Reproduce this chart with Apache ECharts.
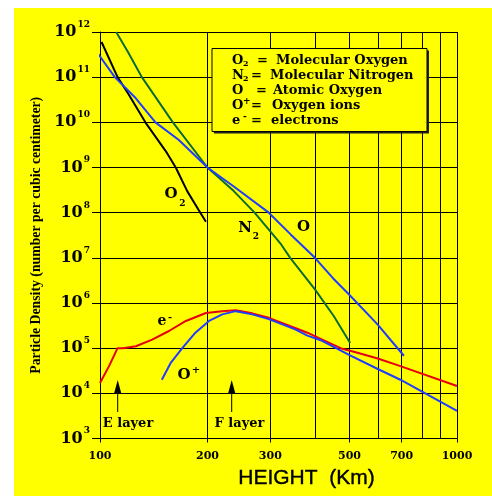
<!DOCTYPE html>
<html><head><meta charset="utf-8">
<script src="https://cdn.jsdelivr.net/npm/echarts@6/dist/echarts.min.js"></script>
<style>
html,body{margin:0;padding:0;background:#fff;}
#bg{position:absolute;left:14px;top:8px;width:478px;height:488px;background:#ffff00;}
#c{position:absolute;left:0;top:0;width:492px;height:496px;}
</style></head><body>
<div id="bg"></div><div id="c"></div>
<script>
// ---- data (height in km, density per cm^3) ----
const heightTicks = [100, 200, 300, 500, 700, 1000];
const o2Height = [101, 112, 120, 134, 154, 163, 175.5, 191, 198];
const o2Density = [6e11, 1e11, 4.3e10, 1e10, 2.1e9, 1e9, 3e8, 1e8, 6.3e7];
const n2Height = [111, 120, 131, 160, 200, 237, 271, 320, 341, 400, 452, 502];
const n2Density = [1e12, 3.5e11, 1e11, 1e10, 1e9, 3e8, 1e8, 2.1e7, 1e7, 2e6, 5.1e5, 1.3e5];
const oHeight = [99, 110, 126, 143, 166, 200, 237, 297, 342, 400, 450, 500, 598, 710];
const oDensity = [3.2e11, 1e11, 3.4e10, 1e10, 4.1e9, 1e9, 3.8e8, 1e8, 3.3e7, 1e7, 3.5e6, 1.5e6, 3.4e5, 6.8e4];
const eHeight = [100, 106, 112, 116, 126, 140, 156, 174, 198, 220, 240, 267, 297, 352, 381, 415, 472, 514, 600, 694, 1000];
const eDensity = [1.7e4, 4e4, 1e5, 1e5, 1.1e5, 1.55e5, 2.4e5, 4e5, 6e5, 6.6e5, 6.9e5, 5.9e5, 4.7e5, 2.8e5, 2.2e5, 1.6e5, 1e5, 8.3e4, 5.9e4, 4e4, 1.45e4];
const opHeight = [149, 158, 170, 185, 202, 220, 240, 267, 297, 352, 381, 415, 500, 598, 694, 1000];
const opDensity = [2e4, 4.8e4, 1e5, 2.2e5, 4e5, 5.6e5, 6.6e5, 5.6e5, 4.4e5, 2.6e5, 1.9e5, 1.5e5, 7e4, 3.5e4, 2e4, 4.1e3];
const legendRows = [
  ['O', '2', '', 'Molecular Oxygen'],
  ['N', '2', '', 'Molecular Nitrogen'],
  ['O', '', '', 'Atomic Oxygen'],
  ['O', '', '+', 'Oxygen ions'],
  ['e', '', '-', 'electrons']
];

const serif = 'DejaVu Serif';
function pairs(xs, ys) { return xs.map((x, i) => [x, ys[i]]); }
function lineSeries(name, xs, ys, color) {
  return { name: name, type: 'line', data: pairs(xs, ys), symbol: 'none', smooth: false,
    lineStyle: { color: color, width: 2 }, z: 3 };
}
function txt(s, x, y, size, align, extra) {
  return Object.assign({ type: 'text', x: x, y: y, z: 10,
    style: { text: s, font: 'bold ' + size + 'px "' + serif + '"', fill: '#000',
      textAlign: align || 'center', textVerticalAlign: 'middle' } }, extra || {});
}

const chart = echarts.init(document.getElementById('c'));
const graphics = [];
// legend box with shadow
graphics.push({ type: 'rect', shape: { x: 214, y: 50.5, width: 215, height: 83 }, style: { fill: '#222' }, z: 8 });
graphics.push({ type: 'rect', shape: { x: 212, y: 48.5, width: 215, height: 83 }, style: { fill: '#ffff00', stroke: '#000', lineWidth: 1 }, z: 9 });
const eqX = [257, 251, 256, 251, 251];
const descX = [276, 270, 273, 272, 271];
legendRows.forEach((r, i) => {
  const cy = 60.5 + i * 15;
  graphics.push(txt(r[0], 232, cy, 13, 'left'));
  if (r[1]) graphics.push(txt(r[1], 243, cy + 3.5, 8, 'left'));
  if (r[2]) graphics.push(txt(r[2], 243, cy - 4, 9, 'left'));
  graphics.push(txt('=', eqX[i], cy, 13, 'left'));
  graphics.push(txt(r[3], descX[i], cy, 13, 'left'));
});
// curve labels
graphics.push(txt('O', 171, 194, 15));
graphics.push(txt('2', 182.5, 203.5, 9));
graphics.push(txt('N', 245, 228, 15));
graphics.push(txt('2', 256, 236.5, 9));
graphics.push(txt('O', 303.5, 227.5, 15));
graphics.push(txt('e', 162, 321, 14));
graphics.push(txt('-', 170, 317, 10));
graphics.push(txt('O', 184, 375.5, 15));
graphics.push(txt('+', 196, 370, 10));
// layer arrows
[[117.7, 'E layer', 128], [231.7, 'F layer', 239.5]].forEach(a => {
  graphics.push({ type: 'polygon', shape: { points: [[a[0] - 3.5, 393], [a[0], 380], [a[0] + 3.5, 393]] }, style: { fill: '#000' }, z: 10 });
  graphics.push({ type: 'line', shape: { x1: a[0], y1: 392, x2: a[0], y2: 412 }, style: { stroke: '#000', lineWidth: 1 }, z: 10 });
  graphics.push(txt(a[1], a[2], 424, 13));
});
// x axis title
graphics.push({ type: 'text', x: 306.5, y: 478, z: 10,
  style: { text: 'HEIGHT  (Km)', font: '21px "Liberation Sans"', fill: '#000', stroke: '#000', lineWidth: 0.4,
    textAlign: 'center', textVerticalAlign: 'middle' } });

const option = {
  backgroundColor: 'transparent',
  animation: false,
  grid: { left: 100, right: 35, top: 32, bottom: 57.5 },
  xAxis: {
    type: 'log', logBase: 10, min: 100, max: 1000,
    axisLine: { show: true, lineStyle: { color: '#000', width: 1 } },
    axisTick: { show: true, length: 4, customValues: heightTicks, lineStyle: { color: '#000', width: 1 } },
    axisLabel: { customValues: heightTicks, formatter: v => String(Math.round(v)),
      fontFamily: serif, fontWeight: 'bold', fontSize: 11, color: '#000', margin: 12 },
    splitLine: { show: true, lineStyle: { color: '#000', width: 1 } },
    minorTick: { show: false, splitNumber: 9 },
    minorSplitLine: { show: true, lineStyle: { color: '#000', width: 1 } }
  },
  yAxis: {
    type: 'log', logBase: 10, min: 1e3, max: 1e12,
    name: 'Particle Density (number per cubic centimeter)',
    nameLocation: 'middle', nameGap: 54, nameRotate: 90,
    nameTextStyle: { fontFamily: 'Liberation Serif', fontWeight: 'bold', fontSize: 13.75, color: '#000' },
    axisLine: { show: true, lineStyle: { color: '#000', width: 1 } },
    axisTick: { show: true, length: 8, lineStyle: { color: '#000', width: 1 } },
    axisLabel: {
      margin: 10,
      formatter: v => '{b|10}{s|' + Math.round(Math.log10(v)) + '}',
      rich: {
        b: { fontFamily: serif, fontWeight: 'bold', fontSize: 16, color: '#000', lineHeight: 16, verticalAlign: 'bottom' },
        s: { fontFamily: serif, fontWeight: 'bold', fontSize: 9, color: '#000', lineHeight: 9, verticalAlign: 'bottom', padding: [0, 0, 11, 1] }
      }
    },
    splitLine: { show: true, lineStyle: { color: '#000', width: 1 } }
  },
  series: [
    lineSeries('O2', o2Height, o2Density, '#000000'),
    lineSeries('N2', n2Height, n2Density, '#0d6b35'),
    lineSeries('O', oHeight, oDensity, '#1f3cff'),
    lineSeries('e-', eHeight, eDensity, '#e60012'),
    lineSeries('O+', opHeight, opDensity, '#1f3cff')
  ],
  graphic: graphics
};
chart.setOption(option);
</script>
</body></html>
